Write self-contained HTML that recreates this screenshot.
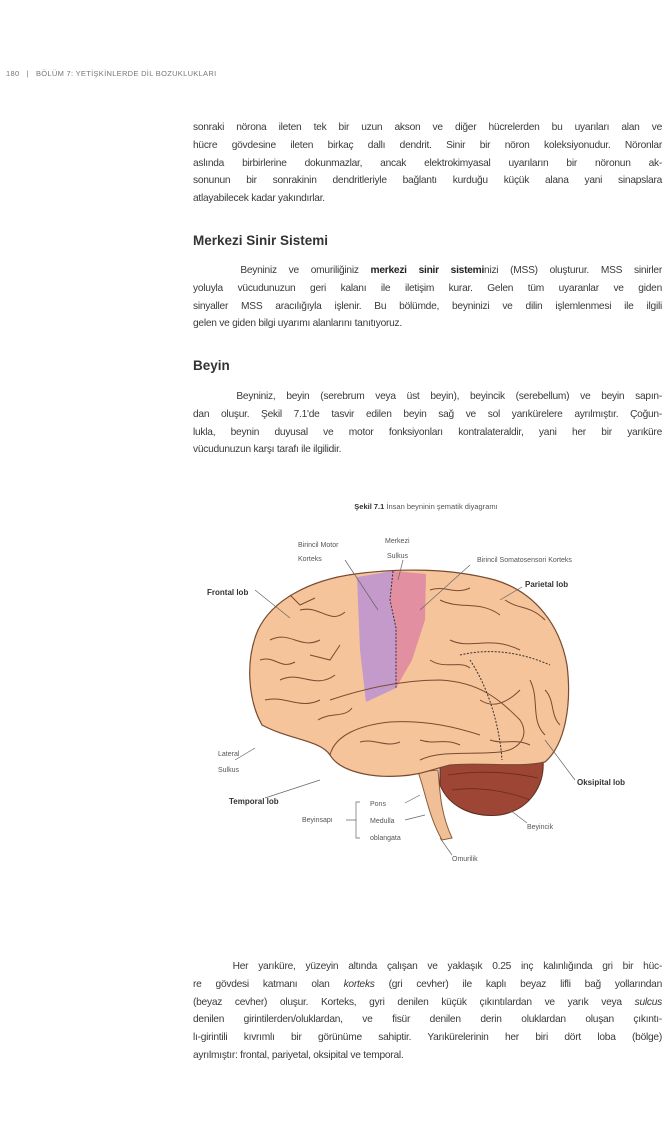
<!DOCTYPE html>
<html><head><meta charset="utf-8"><style>
html,body{margin:0;padding:0;background:#fff;}
body{width:665px;height:1140px;position:relative;overflow:hidden;font-family:"Liberation Sans",sans-serif;color:#3a3a3a;}
.hdr{position:absolute;left:6px;top:69px;font-size:7.5px;color:#777;letter-spacing:.3px;}
.p{position:absolute;left:193px;width:469px;font-size:10.2px;line-height:17.8px;letter-spacing:-0.25px;}
.p div{text-align:justify;text-align-last:justify;height:17.8px;white-space:nowrap;}
.p div.l{text-align-last:left;}
.h{position:absolute;left:193px;font-size:13.5px;font-weight:bold;color:#333;}
svg{position:absolute;left:0;top:0;}
</style></head><body>
<div class="hdr">180 &nbsp; | &nbsp; BÖLÜM 7: YETİŞKİNLERDE DİL BOZUKLUKLARI</div>
<div class="p" style="top:119px">
<div>sonraki nörona ileten tek bir uzun akson ve diğer hücrelerden bu uyarıları alan ve</div>
<div>hücre gövdesine ileten birkaç dallı dendrit. Sinir bir nöron koleksiyonudur. Nöronlar</div>
<div>aslında birbirlerine dokunmazlar, ancak elektrokimyasal uyarıların bir nöronun ak-</div>
<div>sonunun bir sonrakinin dendritleriyle bağlantı kurduğu küçük alana yani sinapslara</div>
<div class="l">atlayabilecek kadar yakındırlar.</div>
</div>
<div class="h" style="top:233px">Merkezi Sinir Sistemi</div>
<div class="p" style="top:262px">
<div>&nbsp;&nbsp;&nbsp;&nbsp;Beyniniz ve omuriliğiniz <b style="color:#222">merkezi sinir sistemi</b>nizi (MSS) oluşturur. MSS sinirler</div>
<div>yoluyla vücudunuzun geri kalanı ile iletişim kurar. Gelen tüm uyaranlar ve giden</div>
<div>sinyaller MSS aracılığıyla işlenir. Bu bölümde, beyninizi ve dilin işlemlenmesi ile ilgili</div>
<div class="l">gelen ve giden bilgi uyarımı alanlarını tanıtıyoruz.</div>
</div>
<div class="h" style="top:358px">Beyin</div>
<div class="p" style="top:388px">
<div>&nbsp;&nbsp;&nbsp;&nbsp;Beyniniz, beyin (serebrum veya üst beyin), beyincik (serebellum) ve beyin sapın-</div>
<div>dan oluşur. Şekil 7.1'de tasvir edilen beyin sağ ve sol yarıkürelere ayrılmıştır. Çoğun-</div>
<div>lukla, beynin duyusal ve motor fonksiyonları kontralateraldir, yani her bir yarıküre</div>
<div class="l">vücudunuzun karşı tarafı ile ilgilidir.</div>
</div>
<div class="p" style="top:958px">
<div>&nbsp;&nbsp;&nbsp;&nbsp;Her yarıküre, yüzeyin altında çalışan ve yaklaşık 0.25 inç kalınlığında gri bir hüc-</div>
<div>re gövdesi katmanı olan <i>korteks</i> (gri cevher) ile kaplı beyaz lifli bağ yollarından</div>
<div>(beyaz cevher) oluşur. Korteks, gyri denilen küçük çıkıntılardan ve yarık veya <i>sulcus</i></div>
<div>denilen girintilerden/oluklardan, ve fisür denilen derin oluklardan oluşan çıkıntı-</div>
<div>lı-girintili kıvrımlı bir görünüme sahiptir. Yarıkürelerinin her biri dört loba (bölge)</div>
<div class="l">ayrılmıştır: frontal, pariyetal, oksipital ve temporal.</div>
</div>
<svg width="665" height="1140" viewBox="0 0 665 1140" font-family="Liberation Sans, sans-serif">
<text x="426" y="509" font-size="7.5" fill="#555" text-anchor="middle"><tspan font-weight="bold" fill="#333">Şekil 7.1</tspan> İnsan beyninin şematik diyagramı</text>
<path d="M418 772 C425 790 428 815 442 840 L452 838 C440 812 440 790 438 770 Z" fill="#f0bf95" stroke="#8a5a3a" stroke-width="1"/>
<path d="M440 760 C470 752 520 752 543 760 C545 785 530 810 500 815 C470 818 448 805 440 785 Z" fill="#9e4636" stroke="#5a2a20" stroke-width="1"/>
<path d="M448 775 C480 770 510 772 538 778 M452 790 C480 786 510 792 530 800" stroke="#6a2a20" fill="none" stroke-width="0.8"/>
<path d="M262 725 C248 700 245 660 258 630 C272 600 310 580 355 574 C400 568 450 568 495 580 C535 592 560 625 567 665 C572 705 565 745 545 762 C520 768 480 762 450 765 C430 770 420 775 400 776 C372 778 340 772 330 755 C320 740 290 740 262 725 Z" fill="#f5c49a" stroke="#7a4a30" stroke-width="1.2"/>
<path d="M357 577 L393 571 L390 600 L396 628 L396 688 L366 702 L360 650 Z" fill="#c49acb"/>
<path d="M393 571 L426 574 L425 620 L412 660 L396 688 L396 628 L390 600 Z" fill="#e38fa2"/>
<g stroke="#7a4a30" fill="none" stroke-width="1">
<path d="M330 700 C360 690 400 680 440 680 C480 682 500 700 520 720 C530 735 520 750 500 752 C470 755 440 750 420 760"/>
<path d="M330 755 C335 735 360 725 390 722 C420 720 450 725 480 735"/>
<path d="M270 640 C290 630 300 650 320 640 M280 680 C300 670 315 690 335 675 M300 610 C320 605 330 625 345 612 M265 700 C285 695 300 710 320 700"/>
<path d="M440 600 C460 610 480 600 500 615 M450 640 C470 650 490 635 520 650 M530 680 C540 700 530 720 545 735 M480 700 C495 710 510 700 520 690"/>
<path d="M260 660 C275 655 280 670 295 662 M310 655 L330 660 L340 645 M318 720 C330 712 345 718 352 708 M290 595 L300 605 L315 598"/>
<path d="M430 590 C445 585 455 595 470 588 M505 600 C520 610 530 605 545 620 M430 660 C445 670 460 660 470 668 M545 690 C555 700 550 715 560 725"/>
<path d="M360 742 C375 738 385 748 400 742 M420 740 C435 745 445 738 460 745 M490 740 C505 745 515 738 530 745"/>
</g>
<g stroke="#333" fill="none" stroke-width="1" stroke-dasharray="2,1.5">
<path d="M393 571 L390 600 L396 628 L396 688"/>
<path d="M460 655 C490 648 520 652 550 665"/>
<path d="M470 660 C490 690 500 730 502 760"/>
</g>
<g stroke="#666" stroke-width="0.7" fill="none">
<path d="M255 590 L290 618"/><path d="M345 560 L378 610"/><path d="M403 560 L398 580"/><path d="M470 565 L420 610"/>
<path d="M522 587 L500 600"/><path d="M575 780 L545 740"/><path d="M235 760 L255 748"/><path d="M265 798 L320 780"/>
<path d="M527 823 L510 810"/><path d="M452 855 L440 838"/><path d="M405 803 L420 795"/><path d="M405 820 L425 815"/>
<path d="M360 802 L356 802 L356 838 L360 838 M356 820 L346 820"/>
</g>
<g font-size="7" fill="#555">
<text x="298" y="547">Birincil Motor</text><text x="298" y="561">Korteks</text>
<text x="385" y="543">Merkezi</text><text x="387" y="558">Sulkus</text>
<text x="477" y="562">Birincil Somatosensori Korteks</text>
<text x="218" y="756">Lateral</text><text x="218" y="772">Sulkus</text>
<text x="302" y="822">Beyinsapı</text>
<text x="370" y="806">Pons</text><text x="370" y="823">Medulla</text><text x="370" y="840">oblangata</text>
<text x="527" y="829">Beyincik</text><text x="452" y="861">Omurilik</text>
</g>
<g font-size="8" font-weight="bold" fill="#333">
<text x="207" y="595">Frontal lob</text><text x="525" y="587">Parietal lob</text>
<text x="577" y="785">Oksipital lob</text><text x="229" y="804">Temporal lob</text>
</g>
</svg>
</body></html>
